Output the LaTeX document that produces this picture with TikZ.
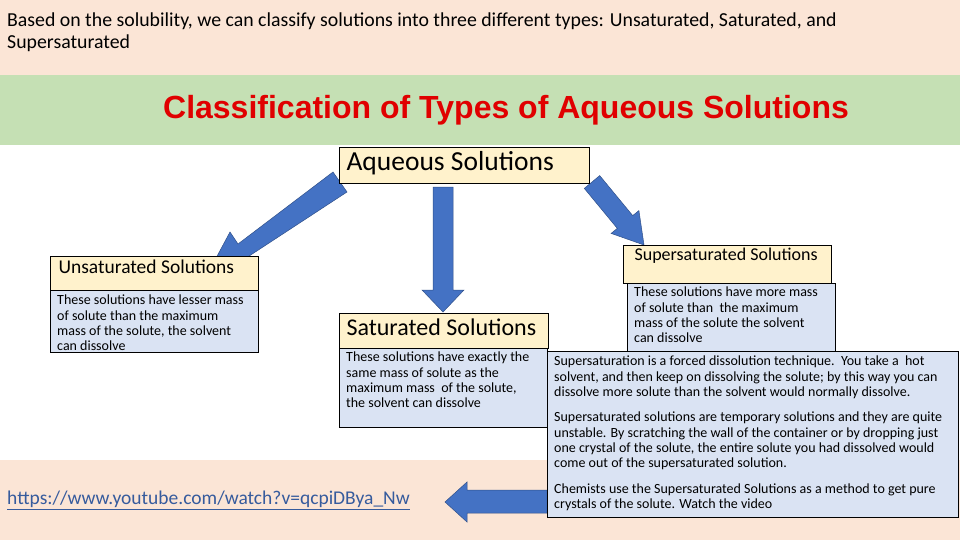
\documentclass[tikz,border=0pt]{standalone}
\usepackage{fontspec}
\setmainfont{Carlito}
\newfontfamily\arial{Liberation Sans}
\definecolor{pinkbg}{HTML}{FBE5D6}
\definecolor{greenbg}{HTML}{C5E0B4}
\definecolor{cream}{HTML}{FFF2CC}
\definecolor{lblue}{HTML}{DAE3F3}
\definecolor{arr}{HTML}{4472C4}
\definecolor{ttl}{HTML}{E00000}
\begin{document}
\begin{tikzpicture}[x=1pt,y=-1pt]
\tikzset{
 ttlbox/.style={draw=black,line width=1.2pt,fill=cream,anchor=north west,inner sep=0pt},
 descbox/.style={draw=black,line width=1.2pt,fill=lblue,anchor=north west,inner sep=0pt},
 bigarrow/.style={fill=arr,draw=arr!70!black,line width=0.5pt},
 txt/.style={anchor=north west,align=left,inner sep=0pt,font=\fontsize{14}{15.3}\selectfont}
}
\useasboundingbox (0,0) rectangle (960,540);
\fill[pinkbg] (0,0) rectangle (960,75);
\fill[greenbg] (0,75) rectangle (960,145);
\fill[pinkbg] (0,460) rectangle (960,540);
\node[anchor=north west,align=left,inner sep=0pt,font=\fontsize{19.8}{22}\selectfont] (intro) at (7,13) {Based on the solubility, we can classify solutions into three different types: Unsaturated, Saturated, and\\Supersaturated};
\node[font=\arial\bfseries\fontsize{32}{36}\selectfont,text=ttl] (title) at (506,110) {Classification of Types of Aqueous Solutions};
% arrows
\draw[bigarrow] (333,172) -- (347,192) -- (240,262) -- (248,274) -- (215,260) -- (230,232) -- (238,244) -- cycle;
\draw[bigarrow] (433,187) -- (453,187) -- (453,290) -- (464,290) -- (443,312) -- (422,290) -- (433,290) -- cycle;
\draw[bigarrow] (599.7,175.6) -- (632.7,215.6) -- (638.9,210.6) -- (644,245) -- (611.1,233.4) -- (617.3,228.4) -- (584.3,188.4) -- cycle;
\draw[bigarrow] (547,490) -- (467,490) -- (467,482) -- (445,502) -- (467,522) -- (467,513) -- (547,513) -- cycle;
% nodes
\node[ttlbox,minimum width=250,minimum height=36] (aq) at (339,147) {};
\node[anchor=west,font=\fontsize{27.5}{30}\selectfont] (aqt) at (343,163) {Aqueous Solutions};
\node[ttlbox,minimum width=208,minimum height=34] (un) at (50,256) {};
\node[anchor=west,font=\fontsize{19.5}{21}\selectfont] (unt) at (55,267) {Unsaturated Solutions};
\node[descbox,minimum width=208,minimum height=62] (und) at (50,290) {};
\node[txt] (undt) at (57,295) {These solutions have lesser mass\\of solute than the maximum\\mass of the solute, the solvent\\can dissolve};
\node[ttlbox,minimum width=209,minimum height=35] (sa) at (339,313) {};
\node[anchor=west,font=\fontsize{24}{26}\selectfont] (sat) at (343,327) {Saturated Solutions};
\node[descbox,minimum width=208,minimum height=79] (sad) at (339,348) {};
\node[txt] (sadt) at (346,352) {These solutions have exactly the\\same mass of solute as the\\maximum mass\ \ of the solute,\\the solvent can dissolve};
\node[ttlbox,minimum width=208,minimum height=38] (su) at (623,245) {};
\node[anchor=west,font=\fontsize{18}{20}\selectfont] (sut) at (631,256) {Supersaturated Solutions};
\node[descbox,minimum width=208,minimum height=68] (sud) at (627,283) {};
\node[txt] (sudt) at (634,287) {These solutions have more mass\\of solute than\ \ the maximum\\mass of the solute the solvent\\can dissolve};
\node[descbox,minimum width=411,minimum height=166] (big) at (547,351) {};
\node[txt] (bigt) at (554,356) {Supersaturation is a forced dissolution technique.\ \ You take a\ \ hot\\solvent, and then keep on dissolving the solute; by this way you can\\dissolve more solute than the solvent would normally dissolve.\\[10pt]Supersaturated solutions are temporary solutions and they are quite\\unstable. By scratching the wall of the container or by dropping just\\one crystal of the solute, the entire solute you had dissolved would\\come out of the supersaturated solution.\\[10pt]Chemists use the Supersaturated Solutions as a method to get pure\\crystals of the solute. Watch the video};
\node[anchor=west,inner sep=0pt,font=\fontsize{19.5}{21}\selectfont,text=arr!80!black] (link) at (7,500) {\underline{https://www.youtube.com/watch?v=qcpiDBya\_Nw}};
\end{tikzpicture}
\end{document}
